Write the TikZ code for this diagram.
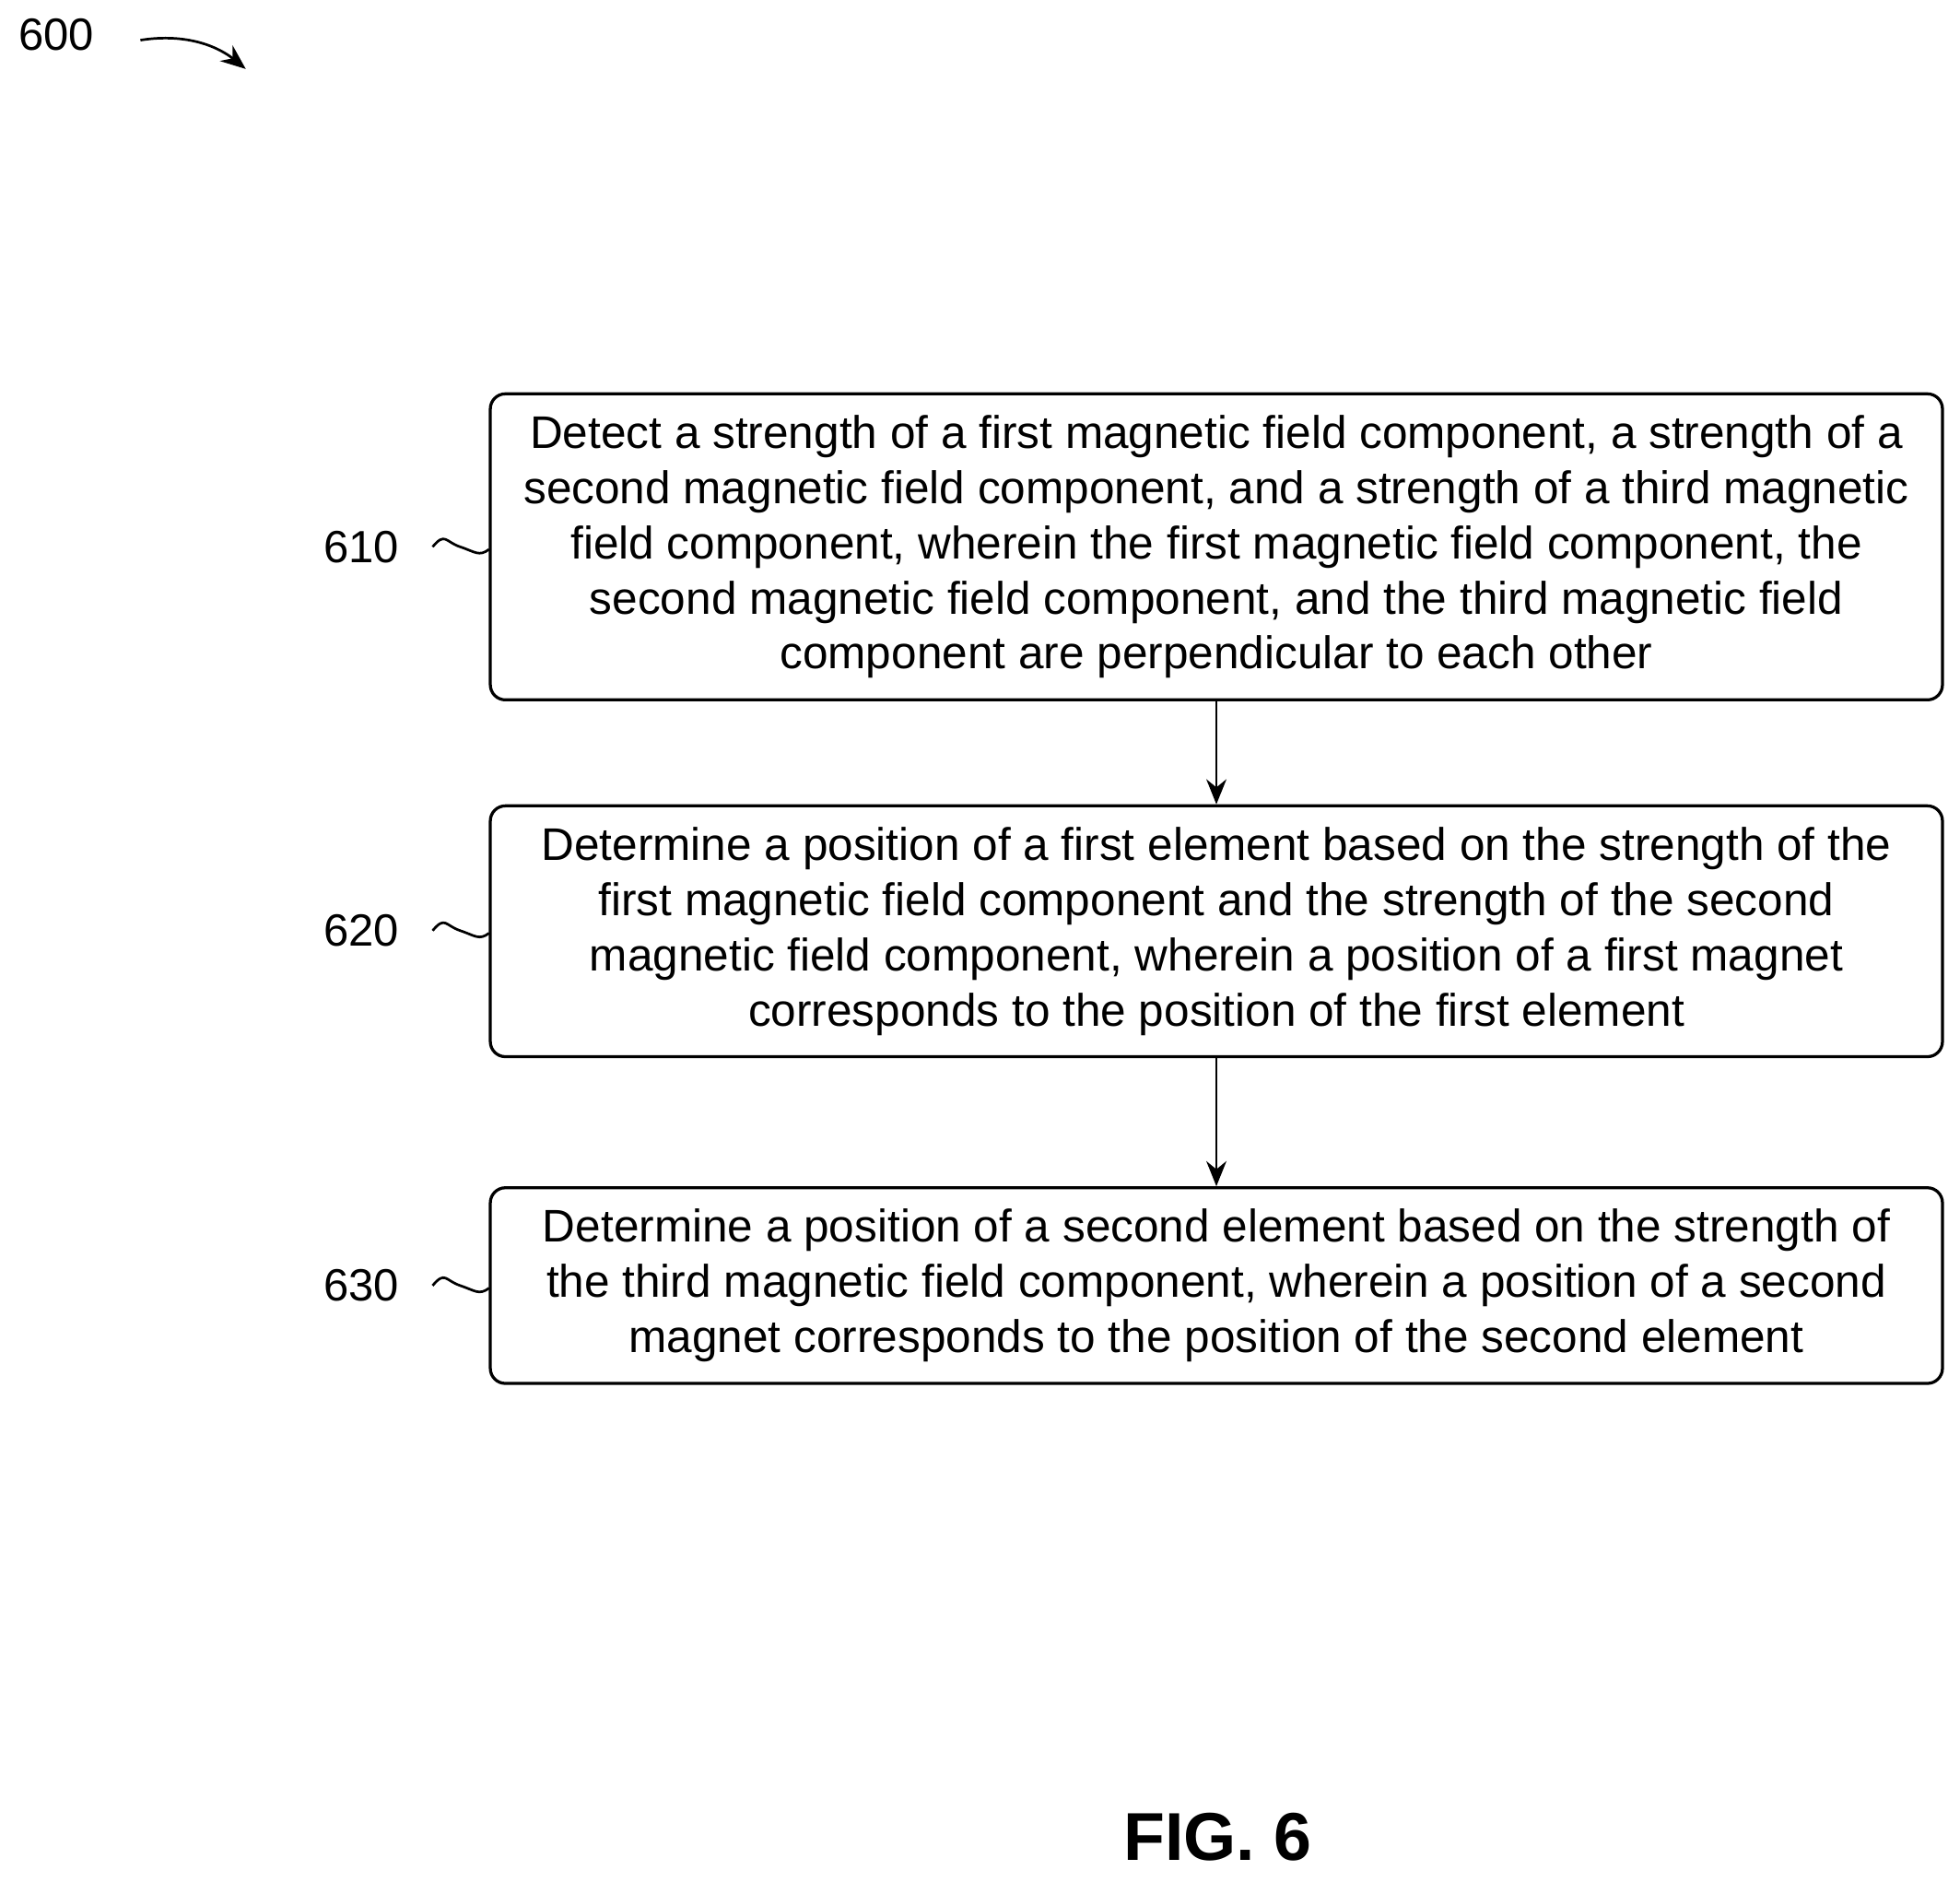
\documentclass[tikz,border=0pt]{standalone}
\usepackage{fontspec}
\setmainfont{Liberation Sans}
\usetikzlibrary{arrows.meta}
\begin{document}
\begin{tikzpicture}[x=0.5pt,y=-0.5pt,
  box/.style={draw,line width=1.2pt,rounded corners=6pt,minimum width=579pt,align=center,font=\fontsize{18.2}{22}\selectfont,inner sep=0pt},
  lbl/.style={font=\fontsize{18}{20}\selectfont},
  arr/.style={-{Stealth[length=10pt,width=8pt]},line width=1pt},
  sq/.style={line width=1pt}]
\useasboundingbox (0,0) rectangle (1563,1500);
\node[box,minimum height=122pt] (b1) at (970,436) {Detect a strength of a first magnetic field component, a strength of a\\second magnetic field component, and a strength of a third magnetic\\field component, wherein the first magnetic field component, the\\second magnetic field component, and the third magnetic field\\component are perpendicular to each other};
\node[box,minimum height=100pt] (b2) at (970,742.5) {Determine a position of a first element based on the strength of the\\first magnetic field component and the strength of the second\\magnetic field component, wherein a position of a first magnet\\corresponds to the position of the first element};
\node[box,minimum height=78pt] (b3) at (970,1025) {Determine a position of a second element based on the strength of\\the third magnetic field component, wherein a position of a second\\magnet corresponds to the position of the second element};
\draw[arr] (b1) -- (b2);
\draw[arr] (b2) -- (b3);
\foreach \n/\y/\t in {l1/436/610,l2/742/620,l3/1025/630}{
  \node[lbl] (\n) at (288,\y) {\t};
  \coordinate (\n s) at (345,\y);
  \draw[sq] (\n s) .. controls ++(10,-12) and ++(-12,-4) .. ++(22,0) .. controls ++(12,4) and ++(-8,6) .. ++(23,2);
}
\node[lbl] (n600) at (45,28) {600};
\coordinate (a1) at (112,32);
\coordinate (a2) at (196,55);
\draw[arr] (a1) .. controls (150,26) and (175,38) .. (a2);
\node[font=\bfseries\fontsize{27}{30}\selectfont] (fig) at (971,1465) {FIG. 6};
\end{tikzpicture}
\end{document}
